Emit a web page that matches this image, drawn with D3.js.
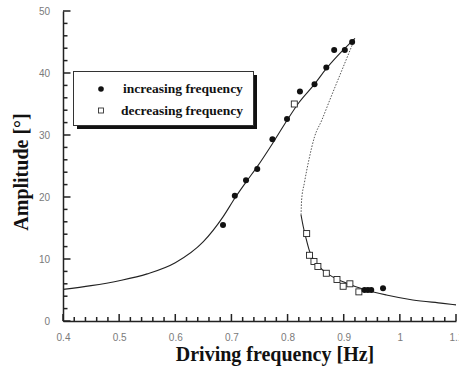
<!DOCTYPE html>
<html>
<head>
<meta charset="utf-8">
<script src="https://cdn.jsdelivr.net/npm/d3@7"></script>
<style>
  body { margin: 0; background: #fff; }
  .tickLabel text { font-family: "Liberation Sans", Arial, sans-serif; font-size: 10px; fill: #7a7a7a; }
  .axisTitle { font-family: "Liberation Serif", "DejaVu Serif", serif; font-weight: bold; font-size: 20px; fill: #111; }
  .legendText { font-family: "Liberation Serif", "DejaVu Serif", serif; font-weight: bold; font-size: 13.5px; fill: #111; }
</style>
</head>
<body>
<div id="chart"></div>
<script>
// theory curve, stable branch (low + resonant)
const upperFreq = [0.40, 0.45, 0.50, 0.55, 0.60, 0.65, 0.685, 0.706, 0.726, 0.746, 0.773, 0.80, 0.82, 0.848, 0.869, 0.90, 0.92];
const upperAmp  = [5.1, 5.7, 6.5, 7.6, 9.4, 12.8, 16.8, 19.8, 22.4, 24.9, 28.6, 32.5, 35.2, 38.2, 40.7, 43.8, 45.6];
// unstable branch (dotted)
const unstableFreq = [0.824, 0.825, 0.830, 0.838, 0.848, 0.861, 0.875, 0.897, 0.92];
const unstableAmp  = [17.1, 19.5, 22.3, 26.0, 29.7, 32.4, 35.6, 40.5, 45.6];
// stable branch after jump down
const lowerFreq = [0.824, 0.828, 0.833, 0.839, 0.854, 0.875, 0.905, 0.94, 0.976, 1.023, 1.077, 1.10];
const lowerAmp  = [17.1, 15.2, 13.3, 11.3, 9.0, 7.4, 6.1, 5.0, 4.2, 3.4, 2.85, 2.6];

// measurements
const incFreq = [0.685, 0.706, 0.726, 0.746, 0.773, 0.799, 0.822, 0.848, 0.869, 0.883, 0.902, 0.915, 0.937, 0.943, 0.949, 0.970];
const incAmp  = [15.5, 20.2, 22.7, 24.5, 29.3, 32.6, 37.0, 38.2, 40.9, 43.7, 43.7, 45.0, 5.0, 5.0, 5.0, 5.3];
const decFreq = [0.812, 0.834, 0.839, 0.847, 0.854, 0.869, 0.888, 0.899, 0.911, 0.927];
const decAmp  = [35.0, 14.1, 10.6, 9.6, 8.8, 7.7, 6.7, 5.6, 6.0, 4.7];

const xTicks = [0.4, 0.5, 0.6, 0.7, 0.8, 0.9, 1.0, 1.1];
const yTicks = [0, 10, 20, 30, 40, 50];
const legendLabels = ['increasing frequency', 'decreasing frequency'];

const width = 459, height = 369;
const svg = d3.select('#chart').append('svg')
  .attr('width', width)
  .attr('height', height);

const x = d3.scaleLinear().domain([0.4, 1.1]).range([63, 456]);
const y = d3.scaleLinear().domain([0, 50]).range([321, 11]);

const zip = (a, b) => a.map((v, i) => [v, b[i]]);
const line = d3.line()
  .x(d => x(d[0]))
  .y(d => y(d[1]))
  .curve(d3.curveMonotoneX);

// axes: labels + domain line from d3.axis
const xAxis = svg.append('g')
  .attr('class', 'tickLabel')
  .attr('transform', `translate(0,${y(0)})`)
  .call(d3.axisBottom(x).tickValues(xTicks).tickSize(0).tickPadding(13)
    .tickFormat(d => d === 1 ? '1' : d3.format('.1f')(d)));
xAxis.select('.domain').attr('stroke', '#222').attr('stroke-width', 1.5);
xAxis.selectAll('text').attr('font-family', null).attr('font-size', null);

const yAxis = svg.append('g')
  .attr('class', 'tickLabel')
  .attr('transform', `translate(${x(0.4)},0)`)
  .call(d3.axisLeft(y).tickValues(yTicks).tickSize(0).tickPadding(13));
yAxis.select('.domain').attr('stroke', '#222').attr('stroke-width', 1.5);
yAxis.selectAll('text').attr('font-family', null).attr('font-size', null);

// inward tick marks, majors every 0.1 / 10, minors every 0.02 / 2
const xTickVals = d3.range(0, 36).map(i => 0.4 + i * 0.02);
const yTickVals = d3.range(0, 26).map(i => i * 2);
const isMajorX = v => xTicks.some(t => Math.abs(t - v) < 1e-6);

svg.append('g').selectAll('rect')
  .data(xTickVals)
  .enter().append('rect')
  .attr('x', d => x(d) - 0.75)
  .attr('y', d => y(0) - (isMajorX(d) ? 7 : 4))
  .attr('width', 1.5)
  .attr('height', d => isMajorX(d) ? 7 : 4)
  .attr('fill', '#222');
svg.append('g').selectAll('rect')
  .data(yTickVals)
  .enter().append('rect')
  .attr('x', x(0.4))
  .attr('y', d => y(d) - 0.75)
  .attr('width', d => d % 10 === 0 ? 7.5 : 4.5)
  .attr('height', 1.5)
  .attr('fill', '#222');

// theory curves
svg.append('path')
  .datum(zip(upperFreq, upperAmp))
  .attr('d', line)
  .attr('fill', 'none')
  .attr('stroke', '#222')
  .attr('stroke-width', 1.1);
svg.append('path')
  .datum(zip(unstableFreq, unstableAmp))
  .attr('d', line)
  .attr('fill', 'none')
  .attr('stroke', '#555')
  .attr('stroke-width', 1)
  .attr('stroke-dasharray', '1.5,1.5');
svg.append('path')
  .datum(zip(lowerFreq, lowerAmp))
  .attr('d', line)
  .attr('fill', 'none')
  .attr('stroke', '#222')
  .attr('stroke-width', 1.1);

// measured points
svg.selectAll('.dec')
  .data(zip(decFreq, decAmp))
  .enter().append('rect')
  .attr('class', 'dec')
  .attr('x', d => x(d[0]) - 3)
  .attr('y', d => y(d[1]) - 3)
  .attr('width', 6)
  .attr('height', 6)
  .attr('fill', '#fff')
  .attr('stroke', '#222')
  .attr('stroke-width', 0.9);
svg.selectAll('.inc')
  .data(zip(incFreq, incAmp))
  .enter().append('circle')
  .attr('class', 'inc')
  .attr('cx', d => x(d[0]))
  .attr('cy', d => y(d[1]))
  .attr('r', 3)
  .attr('fill', '#111');

// legend
const legend = svg.append('g');
legend.append('rect')
  .attr('x', 77).attr('y', 75).attr('width', 180).attr('height', 54)
  .attr('fill', '#111');
legend.append('rect')
  .attr('x', 73.5).attr('y', 71.5).attr('width', 180).attr('height', 54)
  .attr('fill', '#fff').attr('stroke', '#333').attr('stroke-width', 1);
legend.append('circle')
  .attr('cx', 101).attr('cy', 89).attr('r', 2.8).attr('fill', '#111');
legend.append('rect')
  .attr('x', 98.5).attr('y', 108).attr('width', 5).attr('height', 5)
  .attr('fill', '#fff').attr('stroke', '#333').attr('stroke-width', 0.9);
legend.selectAll('.legendText')
  .data(legendLabels)
  .enter().append('text')
  .attr('class', 'legendText')
  .attr('x', (d, i) => i === 0 ? 123 : 121)
  .attr('y', (d, i) => 93 + i * 22)
  .text(d => d);

// axis titles
svg.append('text')
  .attr('class', 'axisTitle')
  .attr('x', 275)
  .attr('y', 361)
  .attr('text-anchor', 'middle')
  .text('Driving frequency [Hz]');
svg.append('text')
  .attr('class', 'axisTitle')
  .attr('transform', `translate(28,172) rotate(-90)`)
  .attr('text-anchor', 'middle')
  .text('Amplitude [°]');
</script>
</body>
</html>
